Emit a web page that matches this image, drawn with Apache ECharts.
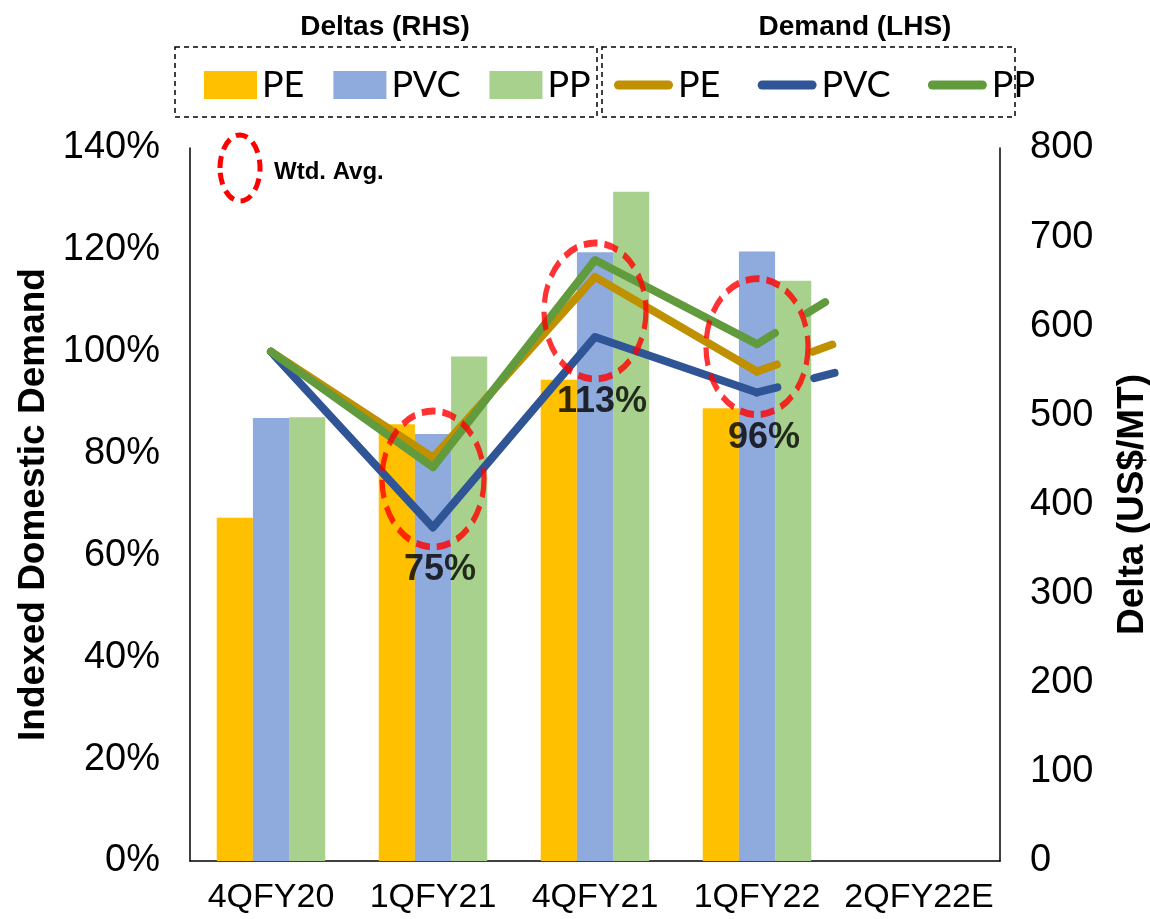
<!DOCTYPE html>
<html>
<head>
<meta charset="utf-8">
<script src="https://cdn.jsdelivr.net/npm/echarts@6/dist/echarts.min.js"></script>
<style>
  html, body { margin: 0; padding: 0; background: #fff; overflow: hidden; }
  #main { width: 1150px; height: 919px; }
</style>
</head>
<body>
<div id="main"></div>
<script>
// quarters on the x axis
const quarters = ['4QFY20', '1QFY21', '4QFY21', '1QFY22', '2QFY22E']

// deltas, US$/MT (right axis)
const deltaPE = [385, 490, 540, 508]
const deltaPVC = [497, 479, 683, 684]
const deltaPP = [498, 566, 751, 651]

// indexed demand, % (left axis)
const demandPE = [100, 79.2, 114.7, 96.1]
const demandPVC = [100, 65.5, 102.9, 92.0]
const demandPP = [100, 77.3, 118.0, 101.5]
// half-step trend after 1QFY22 (drawn dashed)
const trendPE = [96.1, 101.8]
const trendPVC = [92.0, 96.0]
const trendPP = [101.5, 111.3]

// weighted averages and where their rings sit
const wtdQuarter = [1, 2, 3]
const wtdAvg = [75, 113, 96]
const ringAt = [75, 108, 101]

const ARIAL = "'Liberation Sans', Arial, sans-serif"
const LEGEND_FONT = "Lato, 'Liberation Sans', sans-serif"
const PILL = 'path://M4.5,0 L54.5,0 A4.5,4.5 0 0 1 54.5,9 L4.5,9 A4.5,4.5 0 0 1 4.5,0 Z'

const colors = {
  barPE: '#FFC000', barPVC: '#8FAADC', barPP: '#A9D18E',
  linePE: '#BF9000', linePVC: '#2F5597', linePP: '#629B3E',
}

function lineData(vals) {
  return vals.map((v, i) => [i, v])
}
function trendData(vals) {
  return [[3, vals[0]], [3.5, vals[1]]]
}

function lineSeries(name, data, color) {
  return {
    name,
    type: 'line',
    xAxisIndex: 1,
    yAxisIndex: 0,
    data: lineData(data),
    symbol: 'none',
    z: 3,
    itemStyle: { color },
    lineStyle: { color, width: 8, cap: 'round', join: 'round' },
    emphasis: { disabled: true },
  }
}

function trendSeries(name, data, color) {
  return {
    name: name + ' trend',
    type: 'line',
    xAxisIndex: 1,
    yAxisIndex: 0,
    data: trendData(data),
    symbol: 'none',
    z: 3,
    lineStyle: { color, width: 8, cap: 'round', type: [21, 38] },
    emphasis: { disabled: true },
  }
}

function barSeries(name, data, color) {
  return {
    name,
    type: 'bar',
    xAxisIndex: 0,
    yAxisIndex: 1,
    data,
    barGap: '0%',
    barCategoryGap: '33%',
    itemStyle: { color },
    z: 2,
    emphasis: { disabled: true },
  }
}

const chart = echarts.init(document.getElementById('main'))

const legendText = { fontFamily: LEGEND_FONT, fontSize: 36, color: '#000', lineHeight: 28 }

const option = {
  animation: false,
  grid: { left: 190, right: 150, top: 148, bottom: 58, outerBoundsMode: 'none', containLabel: false },
  legend: [
    {
      data: ['PE', 'PVC', 'PP'],
      left: 204, top: 67,
      padding: 0,
      itemWidth: 53, itemHeight: 28, itemGap: 29,
      icon: 'rect',
      selectedMode: false,
      textStyle: legendText,
    },
    {
      data: ['PE ', 'PVC ', 'PP '],
      left: 614, top: 67,
      padding: 0,
      itemWidth: 59, itemHeight: 28, itemGap: 28,
      icon: PILL,
      selectedMode: false,
      textStyle: legendText,
    },
  ],
  xAxis: [
    {
      type: 'category',
      data: quarters,
      axisLine: { lineStyle: { color: '#000', width: 1.5 } },
      axisTick: { show: false },
      axisLabel: { color: '#000', fontFamily: ARIAL, fontSize: 34, margin: 20, interval: 0 },
    },
    { type: 'value', min: -0.5, max: 4.5, show: false },
  ],
  yAxis: [
    {
      type: 'value', min: 0, max: 140, interval: 20, position: 'left',
      axisLine: { show: true, onZero: false, lineStyle: { color: '#000', width: 1.5 } },
      axisTick: { show: false },
      splitLine: { show: false },
      axisLabel: { formatter: '{value}%', color: '#000', fontFamily: ARIAL, fontSize: 38, margin: 30 },
      name: 'Indexed Domestic Demand',
      nameLocation: 'middle',
      nameGap: 136,
      nameTextStyle: { fontFamily: ARIAL, fontWeight: 'bold', fontSize: 37, color: '#000' },
    },
    {
      type: 'value', min: 0, max: 800, interval: 100, position: 'right',
      axisLine: { show: true, onZero: false, lineStyle: { color: '#000', width: 1.5 } },
      axisTick: { show: false },
      splitLine: { show: false },
      axisLabel: { color: '#000', fontFamily: ARIAL, fontSize: 38, margin: 30 },
      name: 'Delta (US$/MT)',
      nameLocation: 'middle',
      nameGap: 114,
      nameRotate: 90,
      nameTextStyle: { fontFamily: ARIAL, fontWeight: 'bold', fontSize: 37, color: '#000' },
    },
  ],
  series: [
    barSeries('PE', deltaPE, colors.barPE),
    barSeries('PVC', deltaPVC, colors.barPVC),
    barSeries('PP', deltaPP, colors.barPP),
    lineSeries('PE ', demandPE, colors.linePE),
    lineSeries('PVC ', demandPVC, colors.linePVC),
    lineSeries('PP ', demandPP, colors.linePP),
    trendSeries('PE', trendPE, colors.linePE),
    trendSeries('PVC', trendPVC, colors.linePVC),
    trendSeries('PP', trendPP, colors.linePP),
    {
      name: 'Wtd. Avg.',
      type: 'scatter',
      xAxisIndex: 1,
      yAxisIndex: 0,
      data: wtdQuarter.map((q, i) => [q, ringAt[i], wtdAvg[i]]),
      symbol: 'circle',
      symbolSize: [102, 136],
      z: 5,
      silent: true,
      itemStyle: {
        color: 'rgba(0,0,0,0)',
        borderColor: '#FF0000',
        borderWidth: 6,
        borderType: [16, 8],
      },
      label: {
        show: true,
        position: 'bottom',
        distance: 2,
        offset: [7, 0],
        formatter: p => p.value[2] + '%',
        color: '#000',
        fontFamily: ARIAL,
        fontWeight: 'bold',
        fontSize: 36,
      },
      emphasis: { disabled: true },
    },
  ],
  graphic: [
    {
      type: 'rect', silent: true,
      shape: { x: 175, y: 47, width: 422, height: 70 },
      style: { fill: 'none', stroke: '#000', lineWidth: 1.5, lineDash: [5, 4] },
    },
    {
      type: 'rect', silent: true,
      shape: { x: 602, y: 47, width: 413, height: 70 },
      style: { fill: 'none', stroke: '#000', lineWidth: 1.5, lineDash: [5, 4] },
    },
    {
      type: 'text', silent: true, x: 385, y: 27,
      style: { text: 'Deltas (RHS)', fill: '#000', font: "bold 28px " + ARIAL, align: 'center', verticalAlign: 'middle' },
    },
    {
      type: 'text', silent: true, x: 855, y: 27,
      style: { text: 'Demand (LHS)', fill: '#000', font: "bold 28px " + ARIAL, align: 'center', verticalAlign: 'middle' },
    },
    {
      type: 'ellipse', silent: true,
      shape: { cx: 240, cy: 168, rx: 20, ry: 33 },
      style: { fill: 'none', stroke: '#FF0000', lineWidth: 5, lineDash: [12, 7] },
    },
    {
      type: 'text', silent: true, x: 274, y: 172,
      style: { text: 'Wtd. Avg.', fill: '#000', font: "bold 24px " + ARIAL, verticalAlign: 'middle' },
    },
  ],
}

chart.setOption(option)
</script>
</body>
</html>
